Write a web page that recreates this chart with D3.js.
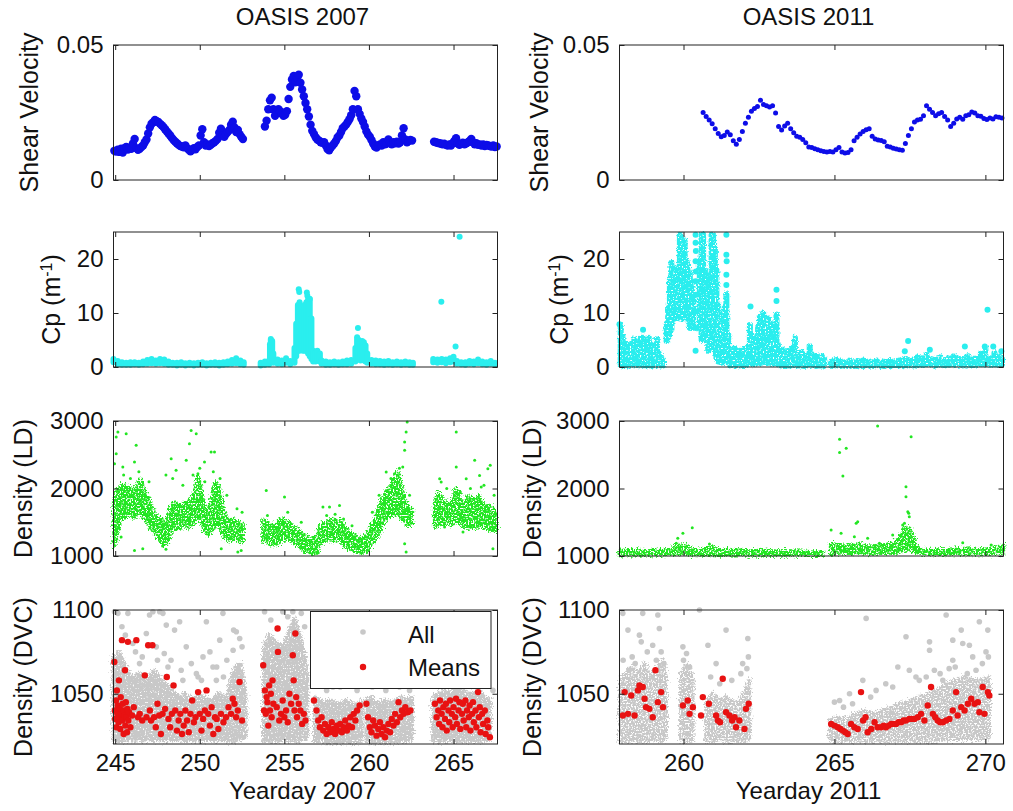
<!DOCTYPE html>
<html>
<head>
<meta charset="utf-8">
<script src="https://cdn.jsdelivr.net/npm/d3@7"></script>
<style>
  body { margin: 0; background: #fff; }
  text { font-family: Arial, "Liberation Sans", sans-serif; fill: #111; }
</style>
</head>
<body>
<div id="chart"></div>
<script>
// ---- data ----
// shear velocity, sampled every 0.1 day from the start day of each stretch
var shear07Starts = [244.95, 253.85, 263.85];
var shear07A = [0.0108,0.0105,0.0112,0.0104,0.0116,0.0102,0.0118,0.0122,0.0113,0.0120,
  0.0116,0.0135,0.0152,0.0118,0.0112,0.0116,0.0122,0.0128,0.0140,0.0150,
  0.0172,0.0195,0.0208,0.0214,0.0222,0.0218,0.0215,0.0208,0.0203,0.0196,
  0.0188,0.0180,0.0172,0.0165,0.0156,0.0148,0.0142,0.0136,0.0130,0.0126,
  0.0124,0.0121,0.0128,0.0118,0.0112,0.0106,0.0112,0.0118,0.0114,0.0122,
  0.0128,0.0165,0.0188,0.0140,0.0128,0.0132,0.0126,0.0130,0.0136,0.0140,
  0.0145,0.0152,0.0175,0.0190,0.0165,0.0160,0.0170,0.0178,0.0185,0.0205,
  0.0216,0.0195,0.0178,0.0185,0.0170,0.0160,0.0152];
var shear07B = [0.0198,0.0220,0.0262,0.0295,0.0305,0.0262,0.0238,0.0250,0.0262,0.0255,
  0.0245,0.0238,0.0242,0.0255,0.0300,0.0345,0.0372,0.0385,0.0362,0.0378,
  0.0390,0.0360,0.0335,0.0310,0.0285,0.0262,0.0235,0.0205,0.0182,0.0170,
  0.0158,0.0150,0.0146,0.0140,0.0138,0.0140,0.0128,0.0115,0.0110,0.0120,
  0.0128,0.0135,0.0145,0.0158,0.0165,0.0178,0.0192,0.0198,0.0205,0.0215,
  0.0225,0.0240,0.0262,0.0330,0.0310,0.0262,0.0245,0.0228,0.0215,0.0198,
  0.0180,0.0168,0.0160,0.0148,0.0135,0.0124,0.0120,0.0128,0.0132,0.0128,
  0.0140,0.0132,0.0135,0.0150,0.0138,0.0132,0.0140,0.0136,0.0142,0.0135,
  0.0140,0.0165,0.0192,0.0150,0.0140,0.0145,0.0148,0.0146];
var shear07C = [0.0142,0.0140,0.0138,0.0136,0.0135,0.0132,0.0134,0.0130,0.0128,0.0132,
  0.0128,0.0136,0.0145,0.0155,0.0135,0.0130,0.0134,0.0138,0.0132,0.0136,
  0.0140,0.0145,0.0152,0.0140,0.0132,0.0136,0.0130,0.0132,0.0128,0.0132,
  0.0126,0.0130,0.0128,0.0126,0.0124,0.0128,0.0122,0.0124];
var shear11Start = 260.65;
var shear11 = [0.0250,0.0235,0.0222,0.0208,0.0190,0.0172,0.0160,0.0165,0.0178,0.0168,
  0.0145,0.0132,0.0150,0.0180,0.0210,0.0232,0.0255,0.0265,0.0272,0.0295,
  0.0280,0.0275,0.0270,0.0275,0.0248,0.0198,0.0185,0.0200,0.0210,0.0190,
  0.0175,0.0162,0.0158,0.0150,0.0138,0.0122,0.0120,0.0116,0.0112,0.0108,
  0.0106,0.0104,0.0106,0.0104,0.0112,0.0120,0.0104,0.0100,0.0102,0.0112,
  0.0145,0.0158,0.0170,0.0180,0.0186,0.0190,0.0162,0.0152,0.0148,0.0146,
  0.0142,0.0125,0.0122,0.0118,0.0115,0.0112,0.0110,0.0135,0.0165,0.0190,
  0.0215,0.0222,0.0225,0.0238,0.0275,0.0262,0.0250,0.0238,0.0245,0.0250,
  0.0235,0.0222,0.0198,0.0210,0.0226,0.0232,0.0225,0.0238,0.0242,0.0252,
  0.0248,0.0238,0.0236,0.0228,0.0224,0.0230,0.0226,0.0234,0.0232,0.0230];

// Cp: [day, low, high] spread of the samples at that time, plus single samples [day, value]
var cp07Spread = [
  [244.9,0.9,1.5],[245.15,0.5,1.1],[245.4,0.4,0.9],[245.65,0.4,0.8],[245.9,0.4,0.9],[246.15,0.5,0.9],
  [246.4,0.4,0.8],[246.65,0.5,1.0],[246.9,0.6,1.3],[247.15,0.7,1.5],[247.4,0.6,1.2],[247.65,0.7,1.5],
  [247.9,0.6,1.4],[248.15,0.4,1.0],[248.4,0.4,0.8],[248.65,0.3,0.8],[248.9,0.4,0.9],[249.15,0.3,0.7],
  [249.4,0.4,0.8],[249.65,0.3,0.7],[249.9,0.4,0.8],[250.15,0.4,0.9],[250.4,0.3,0.7],[250.65,0.4,0.8],
  [250.9,0.4,0.9],[251.15,0.3,0.8],[251.4,0.4,0.9],[251.65,0.5,1.0],[251.9,0.6,1.3],[252.15,0.7,1.6],
  [252.4,0.5,1.2],[252.6,0.4,0.9],
  [253.6,0.3,0.8],[253.85,0.4,1.0],[254.1,0.5,1.2],[254.15,1.0,4.2],[254.2,1.0,5.2],[254.28,1.0,4.8],
  [254.35,0.8,2.5],[254.6,0.6,1.4],[254.85,0.5,1.2],[255.1,0.8,1.6],[255.35,0.5,1.1],[255.6,0.8,3.5],
  [255.7,2.0,8.0],[255.8,3.0,11.5],[255.9,3.0,12.0],[256.0,3.2,11.0],[256.1,3.0,10.5],[256.2,3.0,11.5],
  [256.3,3.0,12.0],[256.4,2.5,12.5],[256.5,2.0,12.6],[256.6,1.5,9.0],[256.7,1.0,3.0],[256.85,1.0,2.8],
  [256.95,1.2,3.0],[257.1,1.0,2.5],[257.2,0.6,1.2],[257.45,0.4,1.0],[257.7,0.4,0.9],[257.95,0.5,1.0],
  [258.2,0.4,0.9],[258.45,0.5,1.0],[258.7,0.5,1.2],[258.95,0.6,1.3],[259.2,1.0,3.5],[259.3,1.5,5.5],
  [259.4,1.5,5.0],[259.5,1.2,4.5],[259.6,1.5,4.8],[259.7,1.2,4.6],[259.8,1.0,4.0],[259.9,0.8,2.5],
  [260.15,0.6,1.3],[260.4,0.5,1.2],[260.65,0.5,1.1],[260.9,0.4,1.0],[261.15,0.5,1.1],[261.4,0.4,0.9],
  [261.65,0.5,1.0],[261.9,0.4,0.9],[262.15,0.5,1.0],[262.4,0.4,0.9],[262.6,0.4,0.8],
  [263.8,0.9,1.5],[264.05,0.8,1.4],[264.3,0.9,1.5],[264.55,0.7,1.4],[264.8,0.9,1.6],[265.0,1.0,1.9],
  [265.2,0.6,1.1],[265.45,0.5,0.9],[265.7,0.4,0.9],[265.95,0.6,1.1],[266.2,0.5,1.0],[266.45,0.7,1.4],
  [266.7,0.5,1.0],[266.95,0.4,0.9],[267.2,0.6,1.1],[267.45,0.4,0.8]];
var cp07Single = [[255.85,14.4],[255.88,13.9],[256.33,13.8],[256.36,13.2],[256.5,12.6],[259.35,7.2],
  [264.28,12.1],[265.12,3.8],[265.36,24.1]];
var cp11Spread = [
  [257.92,0.3,7.8],[257.98,0.5,5.7],[258.05,0.3,4.5],[258.12,0.5,3.5],[258.18,0.3,4.2],[258.25,0.4,3.2],
  [258.32,0.5,4.4],[258.38,0.3,5.2],[258.45,0.5,3.8],[258.52,0.3,4.8],[258.6,0.4,5.4],[258.66,0.5,5.4],
  [258.72,0.3,3.5],[258.78,0.4,4.0],[258.85,0.3,5.4],[258.92,0.5,3.2],[258.98,0.3,4.1],[259.05,0.4,3.0],
  [259.12,0.3,5.1],[259.18,0.5,2.5],[259.25,0.3,1.7],[259.32,0.3,1.4],
  [259.44,4.8,8.0],[259.49,5.2,11.0],[259.55,6.0,16.5],[259.6,7.0,19.3],[259.66,9.0,18.3],[259.71,9.0,17.0],
  [259.77,9.5,16.5],[259.82,10.0,18.3],[259.88,9.0,24.5],[259.93,9.5,24.0],[259.99,9.0,22.0],[260.04,9.5,23.3],
  [260.1,9.0,19.6],[260.15,10.3,19.0],[260.21,7.2,17.7],[260.27,8.0,15.9],[260.32,7.2,13.4],
  [260.54,7.2,19.6],[260.6,5.0,24.5],[260.65,6.0,24.5],[260.71,5.4,18.0],[260.76,4.8,16.5],[260.82,3.0,14.0],
  [260.87,3.5,17.0],[260.93,5.0,24.5],[260.98,4.0,24.5],[261.04,3.0,22.0],[261.09,1.5,18.0],[261.15,1.0,11.5],
  [261.2,1.0,10.0],[261.26,0.8,9.0],[261.31,1.0,8.0],[261.37,1.2,11.0],[261.42,1.0,13.5],[261.48,1.0,6.0],
  [261.55,0.3,3.2],[261.62,0.4,2.5],[261.7,0.3,3.5],[261.78,0.5,2.8],[261.86,0.3,3.0],[261.94,0.4,2.2],
  [262.02,0.3,3.5],[262.1,0.5,2.6],[262.2,1.0,7.8],[262.25,0.8,6.0],[262.3,0.5,4.0],[262.36,0.5,3.5],
  [262.42,0.8,5.4],[262.47,0.8,7.2],[262.53,1.0,9.4],[262.58,0.8,8.0],[262.64,1.0,10.0],[262.69,1.0,8.5],
  [262.75,0.8,7.0],[262.8,1.0,9.0],[262.86,0.8,6.5],[262.91,1.0,8.0],[262.97,0.5,5.0],[263.02,0.5,4.0],
  [263.08,0.8,9.7],[263.13,0.5,4.0],[263.2,0.3,2.5],[263.28,0.3,3.2],[263.36,0.2,2.4],[263.44,0.3,3.0],
  [263.52,0.3,2.6],[263.6,0.3,3.5],[263.69,0.4,5.4],[263.76,0.3,2.5],[263.84,0.3,2.0],[263.92,0.3,2.8],
  [264.0,0.2,2.2],[264.08,0.3,2.0],[264.18,0.5,3.8],[264.26,0.3,2.2],[264.34,0.3,1.8],[264.42,0.2,2.0],
  [264.5,0.3,1.6],[264.58,0.3,2.0],[264.66,0.3,1.5],
  [264.9,0.2,1.0],[265.05,0.3,1.5],[265.2,0.2,1.0],[265.35,0.2,0.9],[265.5,0.3,1.2],[265.65,0.2,0.9],
  [265.8,0.3,1.1],[265.95,0.2,1.2],[266.1,0.3,1.0],[266.25,0.2,0.9],[266.4,0.3,1.2],[266.55,0.2,0.8],
  [266.7,0.3,1.0],[266.85,0.2,1.1],[267.0,0.3,0.9],[267.15,0.3,1.2],[267.3,0.3,1.5],[267.45,0.3,1.3],
  [267.6,0.3,1.4],[267.75,0.4,1.8],[267.9,0.4,1.6],[268.05,0.5,2.2],[268.2,0.4,1.5],[268.35,0.3,1.4],
  [268.5,0.4,1.8],[268.65,0.3,1.3],[268.8,0.4,1.6],[268.95,0.5,2.0],[269.1,0.4,1.6],[269.25,0.3,1.5],
  [269.4,0.4,2.0],[269.55,0.3,1.4],[269.7,0.4,1.6],[269.85,0.5,2.5],[270.0,0.6,3.4],[270.15,0.4,1.6],
  [270.3,0.5,2.6],[270.45,0.4,2.0],[270.55,0.5,1.5]];
var cp11Single = [[257.88,7.9],[258.66,6.9],[260.4,24.5],[260.4,23.0],[260.41,21.5],[260.4,19.6],
  [260.41,17.7],[260.4,15.9],[260.41,13.4],[260.4,10.3],[260.41,7.2],[260.4,3.0],[261.42,24.5],
  [261.42,20.8],[261.43,19.6],[261.42,17.1],[261.42,15.2],[262.22,11.2],[263.08,14.3],[263.08,12.2],
  [267.33,2.9],[267.44,4.8],[268.16,3.2],[269.32,3.8],[269.98,3.8],[270.07,10.6],[270.26,3.8],[270.53,2.9]];

// density (LD): [day, low, high] of the dense cloud (null = data gap), plus scattered samples
var ld07Cloud = [
  [244.95,1150,1750],[245.1,1320,1980],[245.3,1520,2030],[245.5,1570,2040],[245.7,1620,2040],[245.9,1620,2000],
  [246.1,1570,1990],[246.3,1620,2040],[246.5,1660,2120],[246.7,1570,1990],[246.9,1510,1890],[247.1,1420,1740],
  [247.3,1360,1640],[247.5,1270,1590],[247.7,1220,1540],[247.9,1170,1490],[248.1,1220,1540],[248.3,1370,1740],
  [248.5,1410,1790],[248.7,1410,1750],[248.9,1420,1740],[249.1,1460,1790],[249.3,1420,1790],[249.5,1460,1840],
  [249.7,1510,1950],[249.9,1610,2170],[250.1,1510,1940],[250.3,1370,1690],[250.5,1320,1640],[250.7,1370,1840],
  [250.9,1460,2080],[251.1,1460,2040],[251.3,1370,1790],[251.5,1270,1590],[251.7,1220,1540],[251.9,1260,1540],
  [252.1,1260,1540],[252.3,1220,1490],[252.55,1220,1480],
  null,
  [253.75,1220,1530],[254.0,1220,1490],[254.25,1170,1440],[254.5,1170,1440],[254.75,1220,1540],[255.0,1260,1540],
  [255.25,1260,1490],[255.5,1220,1440],[255.75,1170,1390],[256.0,1120,1340],[256.25,1070,1290],[256.5,1070,1260],
  [256.7,1030,1240],[256.9,1070,1290],[257.1,1170,1440],[257.3,1220,1490],[257.5,1260,1490],[257.7,1260,1540],
  [257.9,1220,1540],[258.1,1260,1490],[258.3,1260,1540],[258.5,1170,1440],[258.7,1120,1390],[258.9,1120,1340],
  [259.1,1070,1290],[259.3,1070,1290],[259.5,1050,1240],[259.7,1070,1290],[259.9,1070,1290],[260.1,1170,1440],
  [260.3,1220,1490],[260.5,1310,1640],[260.7,1410,1790],[260.9,1510,1890],[261.1,1560,1990],[261.3,1610,2040],
  [261.5,1610,2140],[261.7,1660,2240],[261.9,1560,2040],[262.1,1510,1840],[262.3,1460,1740],[262.5,1460,1690],
  null,
  [263.9,1420,1740],[264.1,1460,1940],[264.3,1510,1840],[264.5,1460,1790],[264.7,1510,1790],[264.9,1460,1740],
  [265.1,1510,1990],[265.3,1510,1940],[265.5,1460,1790],[265.7,1420,1790],[265.9,1420,1890],[266.1,1460,1840],
  [266.3,1420,1840],[266.5,1460,1890],[266.7,1420,1790],[266.9,1420,1740],[267.1,1420,1740],[267.3,1370,1690],
  [267.5,1370,1640]];
var ld07Scatter = [[245.06,2763],[245.16,2837],[244.96,2367],[245.06,2516],[245.65,2812],[246.24,2639],
  [246.14,2392],[245.45,2318],[245.35,1281],[246.14,1083],[246.63,1108],[248.31,2441],[248.6,2269],
  [249.2,2417],[249.39,2664],[249.49,2861],[249.79,2812],[249.89,2219],[250.28,2392],[250.67,2540],
  [250.87,2540],[251.27,1108],[252.45,1083],[252.25,1058],[253.93,1972],[255.01,1874],[257.28,1725],
  [257.67,1725],[258.26,1750],[261.02,2244],[261.51,2219],[262.0,2318],[262.11,2565],[262.11,2689],
  [262.2,2837],[262.26,2985],[262.11,1182],[262.2,1058],[264.18,2145],[264.27,2096],[265.16,2837],
  [265.16,2318],[265.75,2145],[266.25,2417],[266.64,2022],[267.03,2293],[267.17,2343],[267.33,1108],
  [265.56,1355],[264.47,1429],[266.54,2194],[245.5,2200],[245.9,2150],[246.4,2250],[247.0,2100],
  [248.0,2200],[248.4,2150],[249.0,2050],[249.6,2200],[250.0,2300],[250.3,2100],[250.8,2250],
  [251.2,2150],[251.6,1900],[252.2,1700],[252.5,1650],[254.0,1600],[255.2,1650],[256.0,1500],
  [257.5,1600],[258.0,1620],[258.5,1550],[259.0,1450],[260.2,1650],[260.6,1900],[261.3,2150],
  [261.8,2300],[262.4,1900],[264.6,2000],[265.4,1950],[266.0,2000],[266.8,2050],[267.4,1900],
  [247.8,1150],[248.0,1100],[256.5,1050],[259.6,1050],[257.0,1050]];
var ld11Cloud = [
  [257.88,1020,1080],[258.2,1025,1075],[258.5,1020,1080],[258.8,1025,1070],[259.1,1020,1080],[259.4,1025,1075],
  [259.6,1030,1100],[259.8,1030,1150],[260.0,1040,1160],[260.2,1030,1120],[260.4,1025,1090],[260.6,1020,1080],
  [260.8,1030,1130],[261.0,1025,1110],[261.2,1020,1080],[261.5,1020,1075],[261.8,1025,1080],[262.1,1020,1070],
  [262.4,1020,1075],[262.7,1025,1080],[263.0,1020,1070],[263.3,1020,1075],[263.6,1020,1070],[263.9,1015,1065],
  [264.2,1015,1060],[264.6,1015,1060],
  null,
  [264.88,1030,1180],[265.0,1040,1160],[265.2,1050,1150],[265.4,1040,1140],[265.6,1050,1160],[265.8,1060,1170],
  [266.0,1050,1150],[266.2,1040,1140],[266.4,1050,1150],[266.6,1040,1160],[266.8,1050,1170],[267.0,1050,1190],
  [267.2,1080,1300],[267.35,1100,1420],[267.5,1090,1400],[267.65,1060,1200],[267.8,1050,1100],[268.0,1040,1090],
  [268.3,1040,1090],[268.6,1040,1085],[268.9,1040,1100],[269.2,1040,1090],[269.5,1040,1100],[269.8,1040,1090],
  [270.1,1040,1100],[270.4,1040,1120],[270.6,1050,1150]];
var ld11Scatter = [[264.89,1385],[265.17,2728],[265.17,2535],[265.28,2185],[265.39,2595],[265.22,1336],
  [265.72,1484],[265.77,1508],[265.66,1286],[266.43,2925],[266.1,1262],[266.49,1188],[267.37,1879],
  [267.37,2027],[267.43,1657],[267.46,1632],[267.54,2768],[267.32,1484],[269.25,1198],[270.19,1163],
  [266.93,1311],[259.76,1188],[259.98,1336],[260.29,1420],[259.81,1262],[260.86,1178],[267.26,1459],
  [267.48,1583]];

// density (DVC): cloud of all samples, scattered samples, and the means
var dvc07Cloud = [
  [244.9,1022,1072],[245.2,1022,1075],[245.5,1022,1068],[245.8,1023,1062],[246.1,1022,1060],[246.4,1023,1062],
  [246.7,1022,1058],[247.0,1023,1060],[247.3,1022,1064],[247.6,1023,1060],[247.9,1022,1056],[248.2,1023,1054],
  [248.5,1022,1050],[248.8,1023,1048],[249.1,1022,1050],[249.4,1023,1047],[249.7,1022,1048],[250.0,1023,1050],
  [250.3,1022,1047],[250.6,1023,1046],[250.9,1022,1048],[251.2,1023,1050],[251.5,1022,1046],[251.8,1022,1056],
  [252.1,1022,1066],[252.4,1023,1068],[252.7,1024,1050],
  null,
  [253.8,1022,1078],[254.1,1022,1085],[254.4,1022,1082],[254.7,1022,1078],[255.0,1023,1080],[255.3,1022,1088],
  [255.6,1022,1095],[255.9,1022,1085],[256.2,1023,1072],[256.35,1024,1060],
  null,
  [256.8,1022,1048],[257.1,1022,1046],[257.4,1021,1044],[257.7,1021,1046],[258.0,1021,1045],[258.3,1021,1044],
  [258.6,1021,1046],[258.9,1021,1045],[259.2,1021,1043],[259.55,1022,1046],
  null,
  [259.85,1022,1046],[260.1,1021,1048],[260.4,1021,1044],[260.7,1021,1045],[261.0,1021,1046],[261.3,1021,1044],
  [261.6,1022,1046],[261.9,1022,1048],[262.2,1022,1046],[262.55,1023,1048],
  null,
  [263.8,1022,1048],[264.1,1022,1050],[264.4,1022,1052],[264.7,1022,1050],[265.0,1022,1052],[265.3,1022,1054],
  [265.6,1022,1052],[265.9,1022,1050],[266.2,1022,1050],[266.5,1022,1052],[266.8,1022,1048],[267.15,1023,1046]];
var dvc07Scatter = [[244.96,1099],[245.16,1098],[245.75,1098],[247.03,1097],[247.23,1099],[247.63,1099],
  [247.82,1098],[248.81,1093],[248.51,1088],[248.02,1091],[250.39,1093],[251.37,1098],[251.18,1082],
  [252.16,1087],[252.36,1083],[251.97,1076],[249.2,1078],[250.19,1072],[250.78,1066],[246.04,1080],
  [246.44,1068],[247.43,1078],[248.12,1066],[249.8,1062],[250.98,1058],[246.84,1086],[253.83,1099],
  [254.91,1099],[255.5,1099],[256.0,1098],[257.08,1058],[257.87,1054],[258.86,1056],[260.83,1058],
  [261.81,1054],[262.4,1052],[267.33,1052],[245.4,1090],[245.6,1085],[246.2,1075],[246.6,1072],
  [247.5,1070],[247.9,1074],[248.3,1070],[248.9,1064],[249.5,1068],[249.9,1060],[250.6,1075],
  [251.0,1066],[251.6,1070],[252.0,1088],[252.5,1078],[249.0,1058],[250.1,1058],[251.4,1060],
  [257.5,1052],[258.3,1054],[259.3,1052],[260.2,1054],[261.0,1052],[262.0,1056],[264.0,1055],
  [264.4,1058],[265.2,1056],[266.2,1055],[266.9,1056],[254.2,1094],[255.2,1096],[256.2,1090]];
var dvc07Means = [[244.95,1069],[244.98,1040],[245.0,1035],[245.05,1046],[245.08,1030],[245.1,1052],
  [245.13,1038],[245.15,1043],[245.2,1033],[245.22,1058],[245.25,1036],[245.28,1041],[245.3,1029],
  [245.33,1048],[245.37,1038],[245.4,1082],[245.42,1034],[245.45,1044],[245.5,1026],[245.52,1040],
  [245.55,1037],[245.58,1064],[245.6,1031],[245.63,1045],[245.66,1036],[245.7,1027],[245.72,1041],
  [245.75,1081],[245.78,1034],[245.82,1039],[245.9,1030],[246.0,1037],[246.1,1042],[246.25,1082],
  [246.35,1036],[246.45,1038],[246.6,1034],[246.75,1061],[246.85,1036],[246.95,1079],[247.05,1040],
  [247.12,1034],[247.2,1079],[247.3,1036],[247.4,1030],[247.5,1044],[247.6,1037],[247.7,1026],
  [247.8,1038],[247.95,1041],[248.05,1060],[248.15,1035],[248.25,1030],[248.35,1038],[248.45,1055],
  [248.55,1040],[248.65,1028],[248.75,1034],[248.85,1038],[248.95,1026],[249.05,1031],[249.15,1040],
  [249.25,1034],[249.35,1027],[249.45,1038],[249.55,1046],[249.65,1033],[249.75,1036],[249.9,1051],
  [250.0,1038],[250.1,1028],[250.2,1035],[250.3,1040],[250.4,1052],[250.5,1038],[250.6,1031],
  [250.7,1042],[250.8,1026],[250.9,1036],[251.0,1035],[251.1,1029],[251.25,1038],[251.4,1033],
  [251.55,1036],[251.7,1042],[251.85,1038],[251.95,1047],[252.05,1044],[252.15,1036],[252.25,1040],
  [252.35,1057],[252.5,1034],
  [253.75,1067],[253.8,1040],[253.85,1052],[253.9,1038],[253.95,1048],[254.0,1045],[254.05,1031],
  [254.1,1055],[254.15,1040],[254.2,1050],[254.25,1036],[254.3,1058],[254.35,1044],[254.6,1089],
  [254.62,1075],[254.55,1042],[254.7,1034],[254.8,1038],[254.9,1046],[255.0,1036],[255.1,1040],
  [255.2,1033],[255.3,1050],[255.5,1073],[255.4,1044],[255.65,1086],[255.55,1058],[255.6,1040],
  [255.7,1048],[255.75,1036],[255.85,1044],[255.95,1040],[256.05,1032],[256.15,1038],[256.25,1034],
  [256.75,1046],
  [256.9,1040],[257.0,1034],[257.1,1030],[257.2,1036],[257.3,1028],[257.4,1032],[257.5,1026],
  [257.6,1030],[257.7,1027],[257.8,1033],[257.9,1029],[258.0,1026],[258.1,1031],[258.2,1028],
  [258.3,1032],[258.4,1027],[258.5,1030],[258.6,1034],[258.7,1028],[258.8,1031],[258.9,1036],
  [259.0,1030],[259.1,1038],[259.2,1034],[259.3,1040],[259.45,1043],
  [259.85,1044],[259.95,1036],[260.05,1030],[260.15,1027],[260.25,1034],[260.35,1031],[260.45,1025],
  [260.55,1029],[260.65,1033],[260.75,1026],[260.85,1030],[260.95,1024],[261.05,1028],[261.15,1032],
  [261.25,1027],[261.35,1035],[261.45,1031],[261.55,1038],[261.65,1033],[261.75,1045],[261.85,1036],
  [261.95,1040],[262.05,1038],[262.15,1042],[262.3,1039],[262.45,1040],
  [263.9,1044],[264.0,1036],[264.1,1040],[264.15,1032],[264.2,1046],[264.3,1038],[264.35,1030],
  [264.4,1042],[264.5,1035],[264.55,1044],[264.6,1028],[264.7,1040],[264.75,1033],[264.8,1046],
  [264.9,1038],[264.95,1030],[265.0,1042],[265.1,1036],[265.15,1047],[265.2,1032],[265.3,1040],
  [265.35,1045],[265.4,1029],[265.5,1038],[265.55,1044],[265.6,1034],[265.7,1046],[265.75,1030],
  [265.8,1040],[265.9,1036],[265.95,1043],[266.0,1028],[266.1,1038],[266.15,1045],[266.2,1033],
  [266.3,1040],[266.35,1030],[266.45,1051],[266.5,1036],[266.55,1042],[266.6,1027],[266.7,1038],
  [266.75,1032],[266.85,1040],[266.9,1026],[267.0,1034],[267.05,1030],[267.15,1024]];
var dvc11Cloud = [
  [257.9,1022,1058],[258.1,1022,1062],[258.3,1022,1066],[258.5,1022,1062],[258.7,1022,1068],[258.9,1022,1060],
  [259.1,1023,1065],[259.3,1022,1070],[259.42,1024,1060],
  null,
  [259.92,1022,1062],[260.1,1022,1068],[260.3,1022,1060],
  null,
  [260.75,1022,1044],[260.95,1022,1050],[261.2,1023,1046],[261.4,1022,1048],[261.6,1022,1046],[261.8,1022,1044],
  [262.0,1022,1050],[262.18,1023,1058],
  null,
  [264.85,1022,1034],[265.1,1022,1036],[265.4,1022,1035],[265.7,1022,1038],[266.0,1022,1040],[266.3,1022,1038],
  [266.6,1022,1040],[266.9,1022,1042],[267.2,1022,1044],[267.5,1022,1046],[267.8,1022,1048],[268.1,1022,1050],
  [268.4,1022,1052],[268.7,1023,1056],[269.0,1023,1058],[269.3,1023,1060],[269.6,1023,1058],[269.9,1023,1058],
  [270.12,1024,1060]];
var dvc11Scatter = [[257.99,1098],[258.16,1088],[258.54,1085],[258.6,1081],[258.65,1098],[258.98,1079],
  [259.15,1097],[259.2,1089],[259.26,1075],[259.98,1078],[260.53,1100],[260.81,1079],[261.08,1068],
  [261.41,1088],[262.13,1083],[261.96,1068],[266.05,1095],[265.94,1058],[267.37,1084],[267.1,1066],
  [267.48,1064],[268.15,1081],[268.15,1076],[268.31,1064],[268.7,1097],[268.92,1082],[269.2,1088],
  [269.25,1080],[269.47,1079],[269.58,1072],[269.69,1064],[269.8,1093],[270.08,1088],[270.02,1075],
  [268.92,1070],[268.59,1058],[267.81,1058],[266.38,1052],[265.17,1046],[265.5,1050],[266.93,1054],
  [268.04,1060],[258.0,1070],[258.3,1072],[258.4,1068],[258.8,1075],[259.1,1070],[259.35,1068],
  [258.2,1064],[260.0,1070],[260.1,1074],[260.2,1066],[260.9,1060],[261.2,1056],[261.6,1058],
  [261.9,1062],[262.1,1065],[262.15,1072],[269.0,1066],[269.4,1062],[269.9,1068],[270.1,1072],
  [268.5,1062],[268.8,1065],[267.7,1060],[266.7,1056],[266.2,1048],[265.6,1044],[265.3,1042],[265.0,1045]];
var dvc11Means = [[257.99,1037],[258.05,1051],[258.16,1038],[258.27,1049],[258.38,1037],[258.49,1052],
  [258.54,1055],[258.65,1054],[258.71,1047],[258.76,1042],[258.87,1041],[258.98,1036],[259.07,1064],
  [259.15,1045],[259.26,1051],[259.32,1042],
  [259.98,1043],[260.14,1046],[260.2,1038],[260.31,1042],
  [260.58,1037],[260.64,1048],[260.84,1044],[261.08,1037],[261.14,1034],[261.21,1033],[261.3,1059],
  [261.41,1039],[261.52,1037],[261.61,1034],[261.69,1036],[261.74,1030],[261.85,1034],[262.02,1029],
  [262.07,1041],[262.16,1044],
  [264.89,1032],[265.0,1031],[265.11,1030],[265.2,1029],[265.28,1028],[265.36,1027],[265.44,1026],
  [265.55,1032],[265.66,1030],[265.77,1029],[265.88,1051],[265.95,1034],[266.03,1036],[266.1,1027],
  [266.22,1029],[266.33,1033],[266.43,1030],[266.55,1030],[266.63,1031],[266.71,1030],[266.8,1031],
  [266.88,1032],[266.96,1032],[267.04,1032],[267.12,1033],[267.21,1033],[267.29,1034],[267.37,1034],
  [267.48,1035],[267.56,1035],[267.65,1035],[267.76,1036],[267.87,1038],[267.98,1034],[268.09,1043],
  [268.2,1054],[268.26,1038],[268.34,1036],[268.42,1034],[268.5,1033],[268.59,1033],[268.7,1034],
  [268.81,1035],[268.92,1040],[269.03,1051],[269.08,1037],[269.2,1042],[269.31,1040],[269.42,1044],
  [269.53,1047],[269.64,1044],[269.75,1045],[269.8,1039],[269.91,1054],[269.97,1038],[270.08,1051],
  [270.13,1049]];

// axis settings
var years = ["OASIS 2007", "OASIS 2011"];
var xLabels = ["Yearday 2007", "Yearday 2011"];
var xDomains = [[244.9, 267.6], [257.88, 270.6]];
var xTicks = [[245, 250, 255, 260, 265], [260, 265, 270]];
var yDomains = [[0, 0.05], [0, 25], [1000, 3000], [1020, 1100]];
var yTicks = [[0, 0.05], [0, 10, 20], [1000, 2000, 3000], [1050, 1100]];

// ---- layout ----
var colX = [[113.5, 497.5], [619.5, 1003.5]];
var rowY = [[45, 180], [232, 367], [421, 556], [610, 744]];
var labelX = [[38, 548], [60, 568], [32, 541], [32, 541]];
var FS = 24;

var svg = d3.select("#chart").append("svg")
  .attr("width", 1013)
  .attr("height", 811);

var blue = "#0d0de8", cyan = "#2aeeee", green = "#22e622", grey = "#c8c8c8", red = "#e81212";

// grainy texture for the dense sample clouds
var defs = svg.append("defs");
function grain(id, scale, slope, offset) {
  var f = defs.append("filter").attr("id", id)
    .attr("x", "-5%").attr("y", "-30%").attr("width", "110%").attr("height", "160%");
  f.append("feTurbulence").attr("type", "fractalNoise").attr("baseFrequency", 0.6)
    .attr("numOctaves", 2).attr("seed", 7).attr("result", "noise");
  f.append("feDisplacementMap").attr("in", "SourceGraphic").attr("in2", "noise")
    .attr("scale", scale).attr("xChannelSelector", "R").attr("yChannelSelector", "G").attr("result", "fuzzy");
  f.append("feColorMatrix").attr("in", "noise").attr("type", "matrix")
    .attr("values", "0 0 0 0 0  0 0 0 0 0  0 0 0 0 0  0 0 0 " + slope + " " + offset).attr("result", "mask");
  f.append("feComposite").attr("in", "fuzzy").attr("in2", "mask").attr("operator", "in");
}
grain("grainLD", 9, 7, -2.2);
grain("grainDVC", 9, 8, -2.0);
grain("grainDVC11", 9, 7, -2.3);
grain("grainCp", 4, 8, -2.0);

function panel(ci, ri) {
  var x = d3.scaleLinear().domain(xDomains[ci]).range(colX[ci]);
  var y = d3.scaleLinear().domain(yDomains[ri]).range([rowY[ri][1], rowY[ri][0]]);
  var g = svg.append("g");
  return {ci: ci, ri: ri, x: x, y: y, g: g};
}

function dots(p, pts, color, r) {
  p.g.selectAll(null).data(pts).join("circle")
    .attr("cx", function(d) { return p.x(d[0]); })
    .attr("cy", function(d) { return p.y(d[1]); })
    .attr("r", r)
    .attr("fill", color);
}

// vertical spread of samples, drawn as a stack of round markers
function spread(p, rows, color, r, filterId) {
  var sg = p.g.append("g");
  if (filterId) sg.attr("filter", "url(#" + filterId + ")");
  sg.selectAll(null).data(rows).join("line")
    .attr("x1", function(d) { return p.x(d[0]); })
    .attr("x2", function(d) { return p.x(d[0]); })
    .attr("y1", function(d) { return p.y(d[1]); })
    .attr("y2", function(d) { return p.y(d[2]); })
    .attr("stroke", color)
    .attr("stroke-width", 2 * r)
    .attr("stroke-linecap", "round");
}

// dense cloud: filled between low and high, with a grainy texture
function cloud(p, rows, color, filterId) {
  var area = d3.area().defined(function(d) { return d; })
    .x(function(d) { return p.x(d[0]); })
    .y0(function(d) { return p.y(d[1]); })
    .y1(function(d) { return p.y(d[2]); });
  p.g.append("path").datum(rows)
    .attr("d", area)
    .attr("fill", color)
    .attr("stroke", color)
    .attr("stroke-width", 4)
    .attr("stroke-linejoin", "round")
    .attr("filter", "url(#" + filterId + ")");
}

function series(start, vals) {
  return vals.map(function(v, i) { return [start + i * 0.1, v]; });
}

function frame(p) {
  var ci = p.ci, ri = p.ri;
  var x0 = colX[ci][0], x1 = colX[ci][1], y0 = rowY[ri][0], y1 = rowY[ri][1];
  svg.append("g").attr("transform", "translate(0," + y1 + ")")
    .call(d3.axisBottom(p.x).tickValues(xTicks[ci]).tickSize(-5).tickSizeOuter(0).tickPadding(10)
      .tickFormat(ri === 3 ? d3.format("d") : function() { return ""; }));
  svg.append("g").attr("transform", "translate(0," + y0 + ")")
    .call(d3.axisTop(p.x).tickValues(xTicks[ci]).tickSize(-5).tickSizeOuter(0).tickFormat(""));
  svg.append("g").attr("transform", "translate(" + x0 + ",0)")
    .call(d3.axisLeft(p.y).tickValues(yTicks[ri]).tickSize(-5).tickSizeOuter(0).tickPadding(10)
      .tickFormat(function(d) { return d === 0 ? "0" : String(d); }));
  svg.append("g").attr("transform", "translate(" + x1 + ",0)")
    .call(d3.axisRight(p.y).tickValues(yTicks[ri]).tickSize(-5).tickSizeOuter(0).tickFormat(""));
  svg.selectAll(".domain").remove();
  svg.selectAll(".tick line").attr("stroke", "#222");
  svg.selectAll(".tick text").attr("font-size", FS).attr("fill", "#111")
    .attr("font-family", "Arial, 'Liberation Sans', sans-serif");
  svg.append("rect")
    .attr("x", x0).attr("y", y0)
    .attr("width", x1 - x0).attr("height", y1 - y0)
    .attr("fill", "none").attr("stroke", "#222").attr("stroke-width", 1);

  // y label
  var lx = labelX[ri][ci], ly = (y0 + y1) / 2;
  var t = svg.append("text")
    .attr("transform", "translate(" + lx + "," + ly + ") rotate(-90)")
    .attr("text-anchor", "middle")
    .attr("font-size", 25);
  if (ri === 0) t.text("Shear Velocity");
  if (ri === 1) {
    t.append("tspan").text("Cp (m");
    t.append("tspan").attr("baseline-shift", "super").attr("font-size", 16).text("-1");
    t.append("tspan").text(")");
  }
  if (ri === 2) t.text("Density (LD)");
  if (ri === 3) t.text("Density (DVC)");
}

// ---- panels ----
var p;
// shear velocity
p = panel(0, 0);
dots(p, series(shear07Starts[0], shear07A), blue, 4.2);
dots(p, series(shear07Starts[1], shear07B), blue, 4.2);
dots(p, series(shear07Starts[2], shear07C), blue, 4.2);
frame(p);
p = panel(1, 0);
dots(p, series(shear11Start, shear11), blue, 2.5);
frame(p);

// Cp
p = panel(0, 1);
spread(p, cp07Spread, cyan, 3);
dots(p, cp07Single, cyan, 3);
frame(p);
p = panel(1, 1);
spread(p, cp11Spread, cyan, 3, "grainCp");
dots(p, cp11Single, cyan, 3);
frame(p);

// density LD
p = panel(0, 2);
cloud(p, ld07Cloud, green, "grainLD");
dots(p, ld07Scatter, green, 1.5);
frame(p);
p = panel(1, 2);
cloud(p, ld11Cloud, green, "grainLD");
dots(p, ld11Scatter, green, 1.5);
frame(p);

// density DVC
p = panel(0, 3);
cloud(p, dvc07Cloud, grey, "grainDVC");
dots(p, dvc07Scatter, grey, 2.8);
dots(p, dvc07Means, red, 3.2);
frame(p);

// legend over the 2007 DVC panel
var lg = svg.append("g");
lg.append("rect").attr("x", 310.5).attr("y", 611.5).attr("width", 180.5).attr("height", 77)
  .attr("fill", "#fff").attr("stroke", "#222");
lg.append("circle").attr("cx", 363).attr("cy", 632).attr("r", 2.8).attr("fill", grey);
lg.append("text").attr("x", 408).attr("y", 643).attr("font-size", FS).text("All");
lg.append("circle").attr("cx", 363).attr("cy", 667).attr("r", 3.2).attr("fill", red);
lg.append("text").attr("x", 408).attr("y", 676).attr("font-size", FS).text("Means");

p = panel(1, 3);
cloud(p, dvc11Cloud, grey, "grainDVC11");
dots(p, dvc11Scatter, grey, 2.8);
dots(p, dvc11Means, red, 3.2);
frame(p);

// titles and x labels
[0, 1].forEach(function(ci) {
  var cx = (colX[ci][0] + colX[ci][1]) / 2 - 3;
  svg.append("text").attr("x", cx).attr("y", 25).attr("text-anchor", "middle")
    .attr("font-size", FS).text(years[ci]);
  svg.append("text").attr("x", cx).attr("y", 799).attr("text-anchor", "middle")
    .attr("font-size", FS).text(xLabels[ci]);
});
</script>
</body>
</html>
